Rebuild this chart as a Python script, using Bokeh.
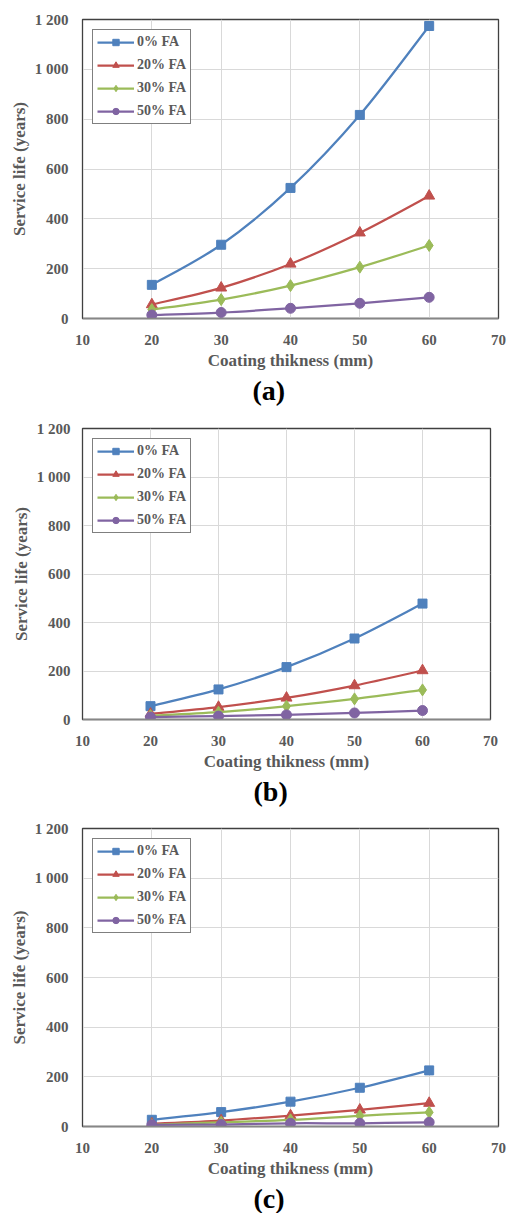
from bokeh.plotting import figure
from bokeh.layouts import column
from bokeh.models import Legend, LegendItem, Title, FixedTicker
from bokeh.embed import file_html
from bokeh.resources import INLINE

thickness = [20, 30, 40, 50, 60]
series_names = ["0% FA", "20% FA", "30% FA", "50% FA"]

a_fa0 = [135, 296, 524, 817, 1174]
a_fa20 = [56, 123, 219, 344, 492]
a_fa30 = [36, 76, 132, 206, 293]
a_fa50 = [14, 24, 41, 61, 85]

b_fa0 = [55, 124, 216, 334, 478]
b_fa20 = [23, 51, 89, 140, 202]
b_fa30 = [16, 30, 55, 85, 122]
b_fa50 = [10, 14, 19, 27, 37]

c_fa0 = [27, 58, 100, 156, 226]
c_fa20 = [11, 24, 44, 67, 94]
c_fa30 = [7, 17, 27, 43, 57]
c_fa50 = [7, 8, 13, 13, 17]

x_ticks = [10, 20, 30, 40, 50, 60, 70]
y_ticks = [0, 200, 400, 600, 800, 1000, 1200]
y_tick_labels = ["0", "200", "400", "600", "800", "1 000", "1 200"]
panel_labels = ["(a)", "(b)", "(c)"]
x_title = "Coating thikness (mm)"
y_title = "Service life (years)"

colors = ["#4F81BD", "#C0504D", "#9BBB59", "#8064A2"]
markers = ["square", "triangle", "diamond", "circle"]
msizes = [9, 11, 12, 10]
FONT = "Liberation Serif"
GRAY = "#595959"


def smooth(xs, ys):
    px = [xs[0]] + list(xs) + [xs[-1]]
    py = [ys[0]] + list(ys) + [ys[-1]]
    out = dict(x0=[], y0=[], x1=[], y1=[], cx0=[], cy0=[], cx1=[], cy1=[])
    for i in range(len(xs) - 1):
        out["x0"].append(xs[i]); out["y0"].append(ys[i])
        out["x1"].append(xs[i + 1]); out["y1"].append(ys[i + 1])
        out["cx0"].append(xs[i] + (px[i + 2] - px[i]) / 6)
        out["cy0"].append(ys[i] + (py[i + 2] - py[i]) / 6)
        out["cx1"].append(xs[i + 1] - (px[i + 3] - px[i + 1]) / 6)
        out["cy1"].append(ys[i + 1] - (py[i + 3] - py[i + 1]) / 6)
    return out


def panel(series, label, width, height, bl, br, bt, bb, label_offset,
          label_standoff, xlab_standoff, ylab_standoff):
    p = figure(width=width, height=height, x_range=(10, 70), y_range=(0, 1200),
               output_backend="svg", toolbar_location=None,
               min_border_left=bl, min_border_right=br, min_border_top=bt,
               min_border_bottom=bb, background_fill_color="white",
               border_fill_color="white")
    p.outline_line_color = "#404040"
    p.outline_line_width = 1.3
    p.grid.grid_line_color = "#d9d9d9"
    p.grid.grid_line_width = 1
    p.xaxis.ticker = FixedTicker(ticks=x_ticks)
    p.yaxis.ticker = FixedTicker(ticks=y_ticks)
    p.yaxis.major_label_overrides = {t: s for t, s in zip(y_ticks, y_tick_labels)}
    for ax in (p.xaxis, p.yaxis):
        ax.major_tick_line_color = None
        ax.minor_tick_line_color = None
        ax.major_tick_out = 0
        ax.major_tick_in = 0
        ax.major_label_text_font = FONT
        ax.major_label_text_font_style = "bold"
        ax.major_label_text_font_size = "15px"
        ax.major_label_text_color = GRAY
        ax.axis_label_text_font = FONT
        ax.axis_label_text_font_style = "bold"
        ax.axis_label_text_color = GRAY
        ax.axis_label_text_font_size = "17px"
    p.xaxis.axis_line_color = "#868686"
    p.xaxis.axis_line_width = 1.5
    p.yaxis.axis_line_color = "#404040"
    p.xaxis.major_label_standoff = 16
    p.yaxis.major_label_standoff = ylab_standoff
    p.xaxis.axis_label = x_title
    p.yaxis.axis_label = y_title
    p.xaxis.axis_label_standoff = xlab_standoff
    p.yaxis.axis_label_standoff = 3

    items = []
    for name, ys, c, m, s in zip(series_names, series, colors, markers, msizes):
        d = smooth(thickness, ys)
        r1 = p.bezier(x0=d["x0"], y0=d["y0"], x1=d["x1"], y1=d["y1"],
                      cx0=d["cx0"], cy0=d["cy0"], cx1=d["cx1"], cy1=d["cy1"],
                      line_color=c, line_width=2.25)
        r2 = p.scatter(thickness, ys, marker=m, size=s, fill_color=c,
                       line_color=c)
        items.append(LegendItem(label=name, renderers=[r1, r2]))
    leg = Legend(items=items, location="top_left", margin=10, padding=4,
                 spacing=7, glyph_width=37, glyph_height=16, label_height=16,
                 label_standoff=3, label_text_font=FONT,
                 label_text_font_style="bold", label_text_font_size="14px",
                 label_text_color=GRAY, border_line_color="black",
                 border_line_width=1.5, background_fill_color="white",
                 background_fill_alpha=1)
    p.add_layout(leg, "center")
    t = Title(text=label, align="left", offset=label_offset,
              text_font=FONT, text_font_style="bold", text_font_size="28px",
              text_color="black", standoff=label_standoff)
    p.add_layout(t, "below")
    return p


pa = panel([a_fa0, a_fa20, a_fa30, a_fa50], panel_labels[0],
           514, 408, 82, 0, 19, 90, 170, 1, 3, 14)
pb = panel([b_fa0, b_fa20, b_fa30, b_fa50], panel_labels[1],
           506, 402, 79, 16, 20, 91, 171, 1, 3, 12)
pc = panel([c_fa0, c_fa20, c_fa30, c_fa50], panel_labels[2],
           514, 403, 81, 11, 18, 86, 171, 0, 3, 14)

layout = column(pa, pb, pc, spacing=0)
open("out.html", "w").write(file_html(layout, INLINE))
